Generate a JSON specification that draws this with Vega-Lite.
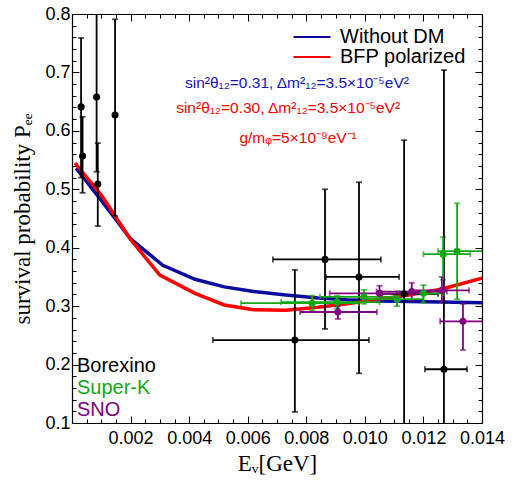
{
  "$schema": "https://vega.github.io/schema/vega-lite/v6.json",
  "width": 410,
  "height": 409,
  "autosize": {"type": "none"},
  "padding": {"left": 72, "top": 14, "right": 39, "bottom": 60},
  "background": "white",
  "config": {
    "view": {"stroke": null},
    "axis": {
      "labelFont": "Liberation Sans", "labelFontSize": 18, "labelColor": "black",
      "tickColor": "black", "domainColor": "black", "tickWidth": 1, "domainWidth": 1.2,
      "titleFont": "Liberation Serif", "titleFontSize": 23, "titleFontWeight": "normal", "titleColor": "black",
      "grid": false, "labelFlush": false, "labelOverlap": false
    },
    "legend": {"labelFont": "Liberation Sans", "labelFontSize": 20, "labelColor": "black", "padding": 0, "title": null}
  },
  "datasets": {
    "curves": [
      {"E": 0.00014, "P": 0.536, "model": "Without DM"},
      {"E": 0.001, "P": 0.481, "model": "Without DM"},
      {"E": 0.002, "P": 0.415, "model": "Without DM"},
      {"E": 0.0031, "P": 0.370, "model": "Without DM"},
      {"E": 0.0042, "P": 0.346, "model": "Without DM"},
      {"E": 0.0052, "P": 0.333, "model": "Without DM"},
      {"E": 0.0062, "P": 0.325, "model": "Without DM"},
      {"E": 0.0073, "P": 0.319, "model": "Without DM"},
      {"E": 0.0084, "P": 0.314, "model": "Without DM"},
      {"E": 0.0094, "P": 0.311, "model": "Without DM"},
      {"E": 0.0105, "P": 0.309, "model": "Without DM"},
      {"E": 0.0115, "P": 0.308, "model": "Without DM"},
      {"E": 0.0126, "P": 0.307, "model": "Without DM"},
      {"E": 0.014, "P": 0.306, "model": "Without DM"},
      {"E": 0.0001, "P": 0.545, "model": "BFP polarized"},
      {"E": 0.001, "P": 0.490, "model": "BFP polarized"},
      {"E": 0.002, "P": 0.414, "model": "BFP polarized"},
      {"E": 0.003, "P": 0.353, "model": "BFP polarized"},
      {"E": 0.0042, "P": 0.322, "model": "BFP polarized"},
      {"E": 0.0052, "P": 0.302, "model": "BFP polarized"},
      {"E": 0.0062, "P": 0.294, "model": "BFP polarized"},
      {"E": 0.0073, "P": 0.293, "model": "BFP polarized"},
      {"E": 0.0084, "P": 0.298, "model": "BFP polarized"},
      {"E": 0.0094, "P": 0.304, "model": "BFP polarized"},
      {"E": 0.0105, "P": 0.312, "model": "BFP polarized"},
      {"E": 0.0115, "P": 0.319, "model": "BFP polarized"},
      {"E": 0.0126, "P": 0.329, "model": "BFP polarized"},
      {"E": 0.014, "P": 0.348, "model": "BFP polarized"}
    ],
    "obs": [
      {"exp": "Borexino", "x": 0.00031, "y": 0.641, "ylo": 0.52, "yhi": 0.759},
      {"exp": "Borexino", "x": 0.00036, "y": 0.557, "ylo": 0.494, "yhi": 0.624},
      {"exp": "Borexino", "x": 0.00084, "y": 0.658, "ylo": 0.53, "yhi": 0.86},
      {"exp": "Borexino", "x": 0.00088, "y": 0.509, "ylo": 0.437, "yhi": 0.579},
      {"exp": "Borexino", "x": 0.00147, "y": 0.627, "ylo": 0.454, "yhi": 0.791},
      {"exp": "Borexino", "x": 0.00761, "y": 0.242, "xlo": 0.00481, "xhi": 0.01014, "ylo": 0.119, "yhi": 0.362},
      {"exp": "Borexino", "x": 0.00864, "y": 0.380, "xlo": 0.00686, "xhi": 0.01055, "ylo": 0.261, "yhi": 0.500},
      {"exp": "Borexino", "x": 0.0098, "y": 0.350, "xlo": 0.00867, "xhi": 0.01117, "ylo": 0.185, "yhi": 0.512},
      {"exp": "Borexino", "x": 0.01134, "y": 0.321, "xlo": 0.01058, "xhi": 0.0125, "ylo": 0.0, "yhi": 0.584},
      {"exp": "Borexino", "x": 0.0127, "y": 0.192, "xlo": 0.01205, "xhi": 0.01349, "ylo": 0.0, "yhi": 0.704},
      {"exp": "Super-K", "x": 0.0082, "y": 0.305, "xlo": 0.00577, "xhi": 0.0098, "ylo": 0.292, "yhi": 0.318},
      {"exp": "Super-K", "x": 0.00905, "y": 0.307, "xlo": 0.00714, "xhi": 0.0105, "ylo": 0.296, "yhi": 0.318},
      {"exp": "Super-K", "x": 0.00997, "y": 0.316, "xlo": 0.00847, "xhi": 0.011, "ylo": 0.304, "yhi": 0.328},
      {"exp": "Super-K", "x": 0.0111, "y": 0.312, "xlo": 0.0101, "xhi": 0.012, "ylo": 0.300, "yhi": 0.325},
      {"exp": "Super-K", "x": 0.012, "y": 0.322, "xlo": 0.0112, "xhi": 0.0127, "ylo": 0.306, "yhi": 0.336},
      {"exp": "Super-K", "x": 0.01267, "y": 0.389, "xlo": 0.012, "xhi": 0.0136, "ylo": 0.345, "yhi": 0.418},
      {"exp": "Super-K", "x": 0.01315, "y": 0.394, "xlo": 0.0125, "xhi": 0.0145, "ylo": 0.312, "yhi": 0.476},
      {"exp": "SNO", "x": 0.00908, "y": 0.290, "xlo": 0.00779, "xhi": 0.01041, "ylo": 0.278, "yhi": 0.300},
      {"exp": "SNO", "x": 0.0105, "y": 0.322, "xlo": 0.0088, "xhi": 0.012, "ylo": 0.310, "yhi": 0.335},
      {"exp": "SNO", "x": 0.0116, "y": 0.325, "xlo": 0.0104, "xhi": 0.0128, "ylo": 0.310, "yhi": 0.340},
      {"exp": "SNO", "x": 0.01263, "y": 0.327, "xlo": 0.0116, "xhi": 0.01356, "ylo": 0.307, "yhi": 0.350},
      {"exp": "SNO", "x": 0.01335, "y": 0.274, "xlo": 0.01257, "xhi": 0.01403, "ylo": 0.225, "yhi": 0.304}
    ],
    "one": [{}]
  },
  "layer": [
    {
      "data": {"name": "curves"},
      "mark": {"type": "line", "strokeWidth": 3.5, "clip": true},
      "encoding": {
        "x": {"field": "E", "type": "quantitative",
          "scale": {"domain": [0, 0.014], "nice": false, "zero": false},
          "axis": {"orient": "bottom", "values": [0.002, 0.004, 0.006, 0.008, 0.01, 0.012, 0.014], "format": ".3f",
            "tickSize": -7, "labelPadding": 13, "title": "Eᵥ[GeV]", "titlePadding": 5}},
        "y": {"field": "P", "type": "quantitative",
          "scale": {"domain": [0.1, 0.8], "nice": false, "zero": false},
          "axis": {"orient": "left", "values": [0.1, 0.2, 0.3, 0.4, 0.5, 0.6, 0.7, 0.8], "format": ".1f",
            "tickSize": -7, "labelPadding": 9, "title": "survival probability Pₑₑ", "titlePadding": 10}},
        "stroke": {"field": "model", "type": "nominal",
          "scale": {"domain": ["Without DM", "BFP polarized"], "range": ["#0a0a9e", "#ff0000"]},
          "legend": {"orient": "none", "legendX": 230, "legendY": 13, "symbolType": "M-3.7,0H3.7", "symbolSize": 100,
            "symbolStrokeWidth": 2, "labelOffset": 18, "rowPadding": -2}}
      }
    },
    {
      "data": {"name": "obs"},
      "mark": {"type": "errorbar", "thickness": 1.8, "ticks": {"size": 6, "thickness": 1.8}, "clip": true},
      "encoding": {
        "x": {"field": "x", "type": "quantitative",
          "scale": {"domain": [0, 0.014], "nice": false, "zero": false},
          "axis": {"orient": "bottom", "values": [0.0005, 0.001, 0.0015, 0.0025, 0.003, 0.0035, 0.0045, 0.005, 0.0055, 0.0065, 0.007, 0.0075, 0.0085, 0.009, 0.0095, 0.0105, 0.011, 0.0115, 0.0125, 0.013, 0.0135],
            "labels": false, "tickSize": -4, "domain": false, "title": null}},
        "y": {"field": "ylo", "type": "quantitative",
          "scale": {"domain": [0.1, 0.8], "nice": false, "zero": false},
          "axis": {"orient": "left", "values": [0.12, 0.14, 0.16, 0.18, 0.22, 0.24, 0.26, 0.28, 0.32, 0.34, 0.36, 0.38, 0.42, 0.44, 0.46, 0.48, 0.52, 0.54, 0.56, 0.58, 0.62, 0.64, 0.66, 0.68, 0.72, 0.74, 0.76, 0.78],
            "labels": false, "tickSize": -4, "domain": false, "title": null}},
        "y2": {"field": "yhi"},
        "color": {"field": "exp", "type": "nominal",
          "scale": {"domain": ["Borexino", "Super-K", "SNO"], "range": ["#000000", "#12a812", "#800080"]}}
      }
    },
    {
      "data": {"name": "obs"},
      "transform": [{"filter": "isValid(datum.xlo)"}],
      "mark": {"type": "errorbar", "thickness": 1.8, "ticks": {"size": 6, "thickness": 1.8}, "clip": true},
      "encoding": {
        "x": {"field": "xlo", "type": "quantitative",
          "scale": {"domain": [0, 0.014], "nice": false, "zero": false},
          "axis": {"orient": "top", "values": [0.002, 0.004, 0.006, 0.008, 0.01, 0.012, 0.014],
            "labels": false, "tickSize": -7, "domain": true, "title": null}},
        "x2": {"field": "xhi"},
        "y": {"field": "y", "type": "quantitative",
          "scale": {"domain": [0.1, 0.8], "nice": false, "zero": false},
          "axis": {"orient": "right", "values": [0.1, 0.2, 0.3, 0.4, 0.5, 0.6, 0.7, 0.8],
            "labels": false, "tickSize": -7, "domain": true, "title": null}},
        "color": {"field": "exp", "type": "nominal",
          "scale": {"domain": ["Borexino", "Super-K", "SNO"], "range": ["#000000", "#12a812", "#800080"]}}
      }
    },
    {
      "data": {"name": "obs"},
      "mark": {"type": "circle", "size": 50, "opacity": 1, "clip": true},
      "encoding": {
        "x": {"field": "x", "type": "quantitative",
          "scale": {"domain": [0, 0.014], "nice": false, "zero": false},
          "axis": {"orient": "top", "values": [0.0005, 0.001, 0.0015, 0.0025, 0.003, 0.0035, 0.0045, 0.005, 0.0055, 0.0065, 0.007, 0.0075, 0.0085, 0.009, 0.0095, 0.0105, 0.011, 0.0115, 0.0125, 0.013, 0.0135],
            "labels": false, "tickSize": -4, "domain": false, "title": null}},
        "y": {"field": "y", "type": "quantitative",
          "scale": {"domain": [0.1, 0.8], "nice": false, "zero": false},
          "axis": {"orient": "right", "values": [0.12, 0.14, 0.16, 0.18, 0.22, 0.24, 0.26, 0.28, 0.32, 0.34, 0.36, 0.38, 0.42, 0.44, 0.46, 0.48, 0.52, 0.54, 0.56, 0.58, 0.62, 0.64, 0.66, 0.68, 0.72, 0.74, 0.76, 0.78],
            "labels": false, "tickSize": -4, "domain": false, "title": null}},
        "color": {"field": "exp", "type": "nominal",
          "scale": {"domain": ["Borexino", "Super-K", "SNO"], "range": ["#000000", "#12a812", "#800080"]},
          "legend": {"orient": "bottom-left", "offset": 3, "symbolSize": 1, "symbolOpacity": 0, "symbolStrokeWidth": 0,
            "labelOffset": -18, "rowPadding": 2,
            "encode": {"labels": {"update": {"fill": {"scale": "color", "field": "value"}}}}}}
      }
    },
    {
      "data": {"name": "one"},
      "mark": {"type": "text", "text": "sin²θ₁₂=0.31, Δm²₁₂=3.5×10⁻⁵eV²", "color": "#1515c0", "font": "Liberation Sans", "fontSize": 15.5},
      "encoding": {
        "x": {"datum": 0.00768, "type": "quantitative", "axis": null},
        "y": {"datum": 0.682, "type": "quantitative", "axis": null}
      }
    },
    {
      "data": {"name": "one"},
      "mark": {"type": "text", "text": "sin²θ₁₂=0.30, Δm²₁₂=3.5×10⁻⁵eV²", "color": "#ff0000", "font": "Liberation Sans", "fontSize": 15.5},
      "encoding": {
        "x": {"datum": 0.00738, "type": "quantitative", "axis": null},
        "y": {"datum": 0.639, "type": "quantitative", "axis": null}
      }
    },
    {
      "data": {"name": "one"},
      "mark": {"type": "text", "text": "g/mᵩ=5×10⁻⁹eV⁻¹", "color": "#ff0000", "font": "Liberation Sans", "fontSize": 15.5},
      "encoding": {
        "x": {"datum": 0.00772, "type": "quantitative", "axis": null},
        "y": {"datum": 0.588, "type": "quantitative", "axis": null}
      }
    }
  ],
  "resolve": {"axis": {"x": "independent", "y": "independent"}}
}
